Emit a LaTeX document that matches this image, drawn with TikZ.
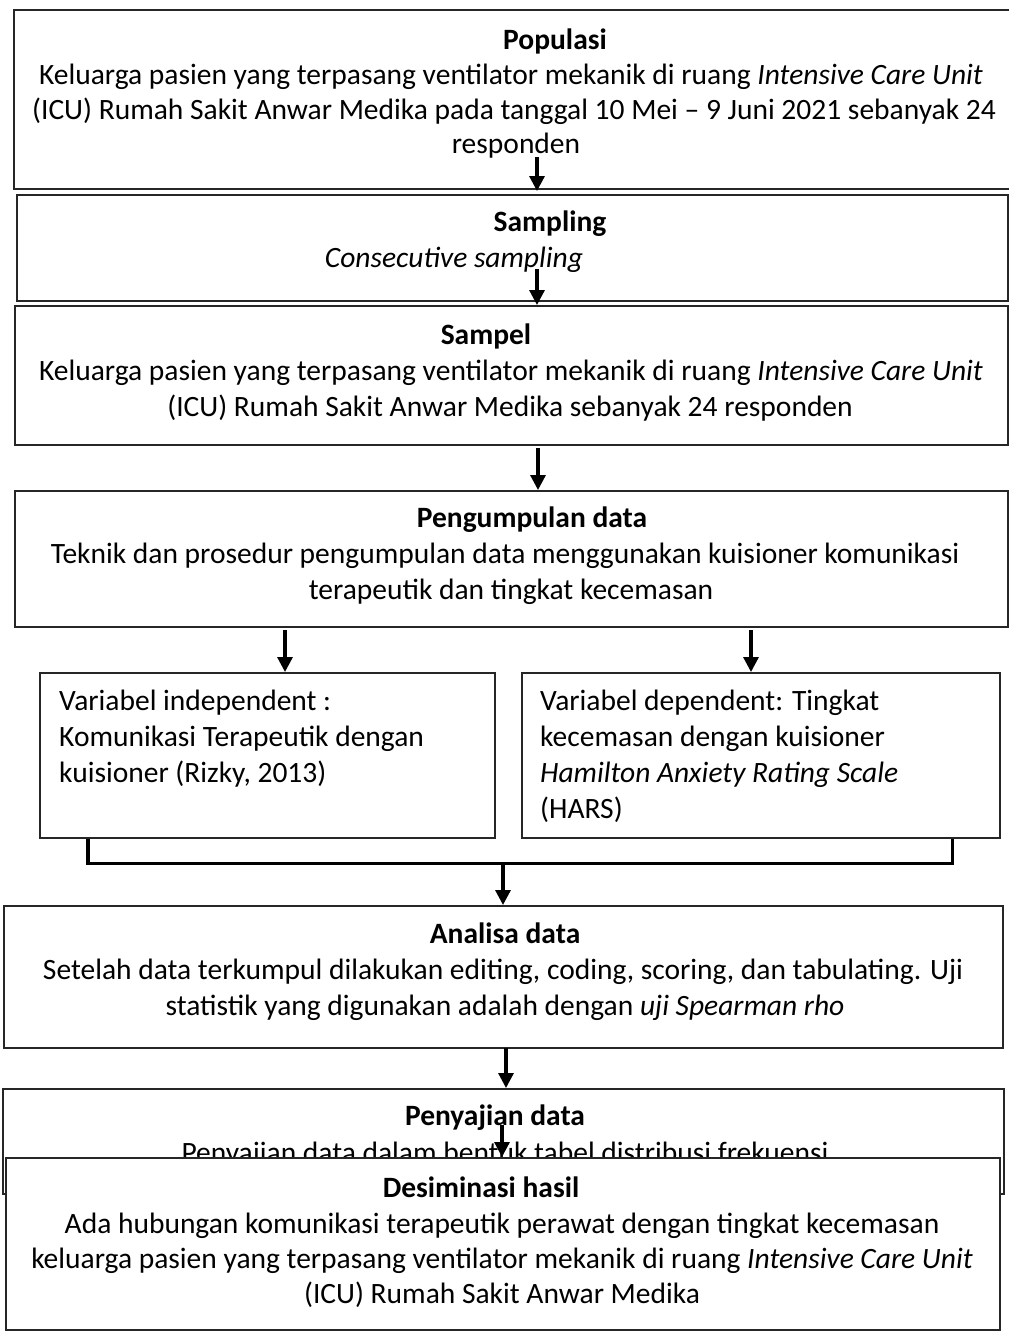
\documentclass[tikz,border=0pt]{standalone}
\usepackage{fontspec}
\setmainfont{Carlito}
\usetikzlibrary{arrows.meta}
\begin{document}
\begin{tikzpicture}[x=1pt,y=-1pt,
  box/.style={draw=black!85, line width=1.6pt, fill=white, inner sep=0pt, anchor=north west},
  txt/.style={inner sep=0pt, font=\fontsize{29.5}{36}\selectfont, anchor=base},
  ltxt/.style={txt, anchor=base west},
  ttl/.style={txt, font=\fontsize{29.5}{36}\selectfont\bfseries},
  arr/.style={line width=3.2pt, -{Triangle[length=15pt,width=15pt]}},
  brk/.style={line width=3.6pt}
  ]
\useasboundingbox (0,0) rectangle (1009,1336);
\fill[white] (0,0) rectangle (1009,1336);

% Populasi
\node[box, minimum width=996pt, minimum height=179pt] (b1) at (13,9) {};
\node[ttl] (t1) at (555,49) {Populasi};
\node[txt] (t1a) at (511,84) {Keluarga pasien yang terpasang ventilator mekanik di ruang \textit{Intensive Care Unit}};
\node[txt] (t1b) at (514,119) {(ICU) Rumah Sakit Anwar Medika pada tanggal 10 Mei -- 9 Juni 2021 sebanyak 24};
\node[txt] (t1c) at (516,153) {responden};

% Sampling
\node[box, minimum width=991pt, minimum height=106pt] (b2) at (16,194) {};
\node[ttl] (t2) at (550,231) {Sampling};
\node[txt] (t2a) at (454,267) {\textit{Consecutive sampling}};

% Sampel
\node[box, minimum width=993pt, minimum height=139pt] (b3) at (14,305) {};
\node[ttl] (t3) at (486,344) {Sampel};
\node[txt] (t3a) at (511,380) {Keluarga pasien yang terpasang ventilator mekanik di ruang \textit{Intensive Care Unit}};
\node[txt] (t3b) at (510,416) {(ICU) Rumah Sakit Anwar Medika sebanyak 24 responden};

% Pengumpulan data
\node[box, minimum width=993pt, minimum height=136pt] (b4) at (14,490) {};
\node[ttl] (t4) at (532,527) {Pengumpulan data};
\node[txt] (t4a) at (505,563) {Teknik dan prosedur pengumpulan data menggunakan kuisioner komunikasi};
\node[txt] (t4b) at (511,599) {terapeutik dan tingkat kecemasan};

% Variabel boxes
\node[box, minimum width=455pt, minimum height=165pt] (vl) at (39,672) {};
\node[ltxt] (vla) at (59,710) {Variabel independent :};
\node[ltxt] (vlb) at (59,746) {Komunikasi Terapeutik dengan};
\node[ltxt] (vlc) at (59,782) {kuisioner (Rizky, 2013)};

\node[box, minimum width=478pt, minimum height=165pt] (vr) at (521,672) {};
\node[ltxt] (vra) at (540,710) {Variabel dependent: Tingkat};
\node[ltxt] (vrb) at (540,746) {kecemasan dengan kuisioner};
\node[ltxt] (vrc) at (540,782) {\textit{Hamilton Anxiety Rating Scale}};
\node[ltxt] (vrd) at (540,818) {(HARS)};

% Analisa data
\node[box, minimum width=999pt, minimum height=142pt] (b5) at (3,905) {};
\node[ttl] (t5) at (505,943) {Analisa data};
\node[txt] (t5a) at (503,979) {Setelah data terkumpul dilakukan editing, coding, scoring, dan tabulating. Uji};
\node[txt] (t5b) at (505,1015) {statistik yang digunakan adalah dengan \textit{uji Spearman rho}};

% Penyajian data
\node[box, minimum width=1001pt, minimum height=105pt] (b6) at (2,1088) {};
\node[ttl] (t6) at (495,1125) {Penyajian data};
\node[txt] (t6a) at (505,1162) {Penyajian data dalam bentuk tabel distribusi frekuensi};

% Desiminasi hasil
\node[box, minimum width=994pt, minimum height=172pt] (b7) at (5,1157) {};
\node[ttl] (t7) at (481,1197) {Desiminasi hasil};
\node[txt] (t7a) at (502,1233) {Ada hubungan komunikasi terapeutik perawat dengan tingkat kecemasan};
\node[txt] (t7b) at (502,1268) {keluarga pasien yang terpasang ventilator mekanik di ruang \textit{Intensive Care Unit}};
\node[txt] (t7c) at (502,1303) {(ICU) Rumah Sakit Anwar Medika};

% Arrows
\coordinate (a1) at (537,157);
\draw[arr] (a1) -- (537,191);
\coordinate (a2) at (537,269);
\draw[arr] (a2) -- (a2 |- b3.north);
\coordinate (a3) at (538,448);
\draw[arr] (a3) -- (a3 |- b4.north);
\coordinate (a4) at (285,630);
\draw[arr] (a4) -- (a4 |- vl.north);
\coordinate (a5) at (751,630);
\draw[arr] (a5) -- (a5 |- vr.north);
\draw[brk] ([xshift=49pt]vl.south west) -- ++(0,25) coordinate (bj) -| ([xshift=-48pt]vr.south east);
\coordinate (a6) at (503,862);
\draw[arr] (a6) -- (a6 |- b5.north);
\coordinate (a7) at (506,1048);
\draw[arr] (a7) -- (a7 |- b6.north);
\coordinate (a8) at (502,1125);
\draw[arr] (a8) -- (a8 |- b7.north);
\end{tikzpicture}
\end{document}
